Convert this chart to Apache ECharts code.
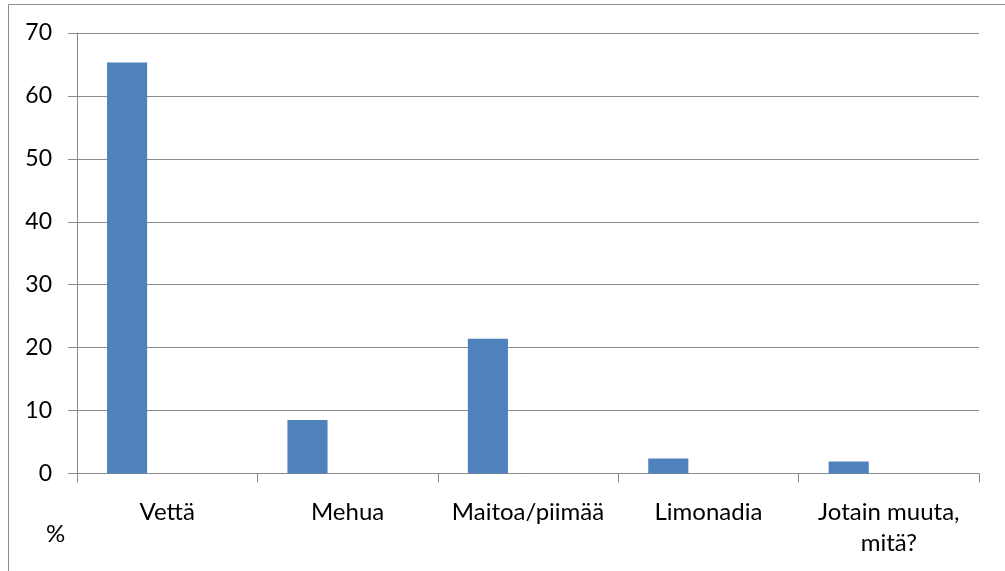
<!DOCTYPE html>
<html>
<head>
<meta charset="utf-8">
<script src="https://cdn.jsdelivr.net/npm/echarts@6/dist/echarts.min.js"></script>
<style>
  html, body { margin: 0; padding: 0; background: #fff; }
  #chart { width: 1005px; height: 571px; }
</style>
</head>
<body>
<div id="chart"></div>
<script>
// Drinks chosen, share of respondents (%)
const categories = ['Vettä', 'Mehua', 'Maitoa/piimää', 'Limonadia', 'Jotain muuta,\nmitä?'];
const shares = [65.3, 8.5, 21.4, 2.4, 1.9];
const yTicks = { min: 0, max: 70, interval: 10 };
const unitLabel = '%';

const FONT = 'Lato, "Open Sans", sans-serif';
const GRID_GRAY = '#8a8a8a';

const chart = echarts.init(document.getElementById('chart'), null, { renderer: 'canvas' });

chart.setOption({
  animation: false,
  backgroundColor: '#ffffff',
  grid: { left: 77, right: 26, top: 33, bottom: 97.5, containLabel: false },
  xAxis: {
    type: 'category',
    data: categories,
    axisLine: { show: true, lineStyle: { color: GRID_GRAY, width: 1 } },
    axisTick: { show: true, length: 9, lineStyle: { color: GRID_GRAY } },
    axisLabel: {
      color: '#000', fontFamily: FONT, fontSize: 24, margin: 23,
      lineHeight: 31, interval: 0
    },
    splitLine: { show: false }
  },
  yAxis: {
    type: 'value',
    min: yTicks.min, max: yTicks.max, interval: yTicks.interval,
    axisLine: { show: true, lineStyle: { color: GRID_GRAY, width: 1 } },
    axisTick: { show: true, length: 9, lineStyle: { color: GRID_GRAY } },
    axisLabel: { color: '#000', fontFamily: FONT, fontSize: 23, margin: 25 },
    splitLine: { show: true, lineStyle: { color: GRID_GRAY, width: 1 } }
  },
  series: [
    {
      type: 'bar', data: shares, barGap: '0%', barCategoryGap: '33.3%',
      itemStyle: { color: '#4f81bd' }
    },
    { type: 'bar', data: [], barGap: '0%', barCategoryGap: '33.3%' },
    { type: 'bar', data: [], barGap: '0%', barCategoryGap: '33.3%' }
  ],
  graphic: [
    {
      type: 'polyline', silent: true,
      shape: { points: [[8.5, 571], [8.5, 4.5], [1005, 4.5]] },
      style: { stroke: '#8c8c8c', lineWidth: 1, fill: null }
    },
    {
      type: 'text', left: 46, top: 522,
      style: { text: unitLabel, fontFamily: FONT, fontSize: 24, fill: '#000' }
    }
  ]
});
</script>
</body>
</html>
